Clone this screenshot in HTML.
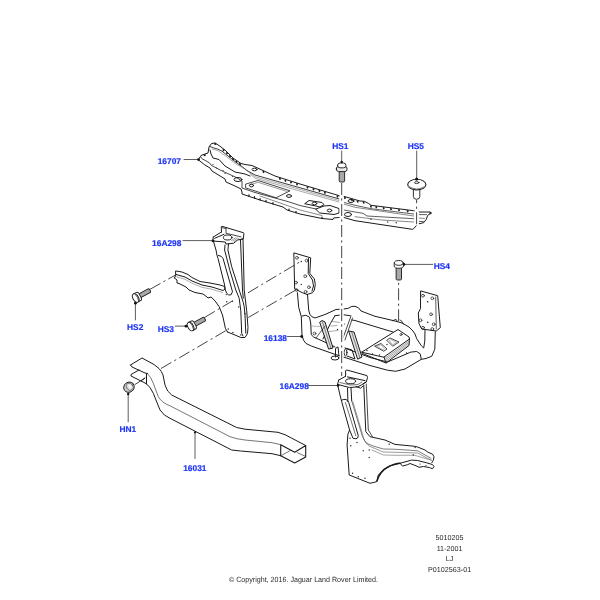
<!DOCTYPE html>
<html><head><meta charset="utf-8">
<style>
html,body{margin:0;padding:0;background:#fff;width:600px;height:600px;overflow:hidden}
svg{position:absolute;left:0;top:0;will-change:transform;text-rendering:geometricPrecision}
.l{font-family:"Liberation Sans",sans-serif;font-weight:bold;font-size:8.4px;fill:#1e35f8;stroke:#1e35f8;stroke-width:0.2px}
.t{font-family:"Liberation Sans",sans-serif;font-size:7.2px;fill:#2a2a2a}
</style></head><body>
<svg width="600" height="600" viewBox="0 0 600 600">
<g fill="none" stroke="#1a1a1a" stroke-width="1" stroke-linejoin="round" stroke-linecap="round">

<!-- 16707 panel -->
<g id="panel">
<path d="M198.5,159.5 L201,155.5 L205,154 L208,153 L209,147 L211.5,143.5 L215,143 L219,145.5 L225,150 L233,158 L241,163.5 L245,164.5 L252,165.5 L275,176 L300,184 L339.3,195.7 L345,196.7 L360,201 L364.3,201.3 L368.3,203.3 L371,205.3 L413.7,210.7 L419,212 L429.7,212 L431,213.3 L427.7,215.3 L426.3,219.3 L423.7,222.7 L417.7,224 L413.7,228.7 L412.3,229.3 L355,220.7 L344,217.5 L339,217.5 L333.5,218 L333,219.5 L322,218.5 L300,214 L287,210 L283,207 L273,204 L260,200 L242,194 L242,192 L241,189 L235,186 L226,182 L225,179 L212,171 L210,168 L205,165 Z"/>
<!-- line A near top -->
<path d="M210,146.5 L213.3,147.8 L218,149.2 L222,151.2 L225.3,153.8 L236,162.3 L242,166.5 L247,170.5 L255,175 L305,189.2 L339,198.9" stroke-width="0.85"/>
<path d="M212,149 L218,150.8 L225,155.5 L236,164 L244,168.5 L255,176.7 L305,190.8 L339,200.5" stroke="#666" stroke-width="0.55"/>
<path d="M250,174 L255,178.3 L305,192.5 L339,202" stroke="#666" stroke-width="0.55"/>
<path d="M344,202.5 L355,205.3 L371,208.7 L413.7,214 M419,214.6 L426.5,214.6" stroke-width="0.7"/>
<path d="M344,204.2 L355,207.3 L413.7,216 M419,218 L424.5,218.5" stroke="#555" stroke-width="0.7"/>
<path d="M344,210 L355,212 L363,213.3 L367,216 L413.7,218.7 M419,221.4 L423.5,221.6" stroke-width="0.7"/>
<path d="M355,216.7 L381.7,220 L413.7,222" stroke="#555" stroke-width="0.7"/>
<!-- line B wavy -->
<path d="M210,150 L211,154 L213,158 L219,159.5 L225,166 L235,172 L245,174 L250,176"/>
<!-- line C near bottom -->
<path d="M200.7,156.7 L202,158.7 L209.3,162.7 L211.3,165.3 L222.7,171.3 L236,177.3 L242,181 L242,188 L255,192.5 L288.3,201.7 L300,205.5 L316,209" stroke-width="0.8"/>
<path d="M260,196 L300,210 L322,215.5" stroke="#555" stroke-width="0.7"/>
<path d="M246,184 L258,180.5 L290,190.8 L276,197.8 L246,188 Z" stroke-width="0.8"/>
<path d="M249,185.2 L258,182.3 L286.5,191.3" stroke="#555" stroke-width="0.6"/>
<path d="M305,203.5 L309,200.5 L322,202.5 L324,204.5 L320,207 L316,206 Z"/>
<path d="M316,209 L324,206 L330,205.5 L339,208.5 L339,213 L334,214.5 L320,213 Z"/>
<ellipse cx="314.5" cy="203.5" rx="2.3" ry="1.4"/>
<ellipse cx="329.5" cy="210.5" rx="2.3" ry="1.4"/>
<ellipse cx="348" cy="214.5" rx="3.5" ry="2"/>
<ellipse cx="351" cy="201" rx="3" ry="1.5"/>
<ellipse cx="254.5" cy="169.5" rx="2.5" ry="1.3"/>
<ellipse cx="251.5" cy="185.5" rx="2" ry="1.4"/>
<ellipse cx="289" cy="196" rx="2.5" ry="1.4"/>
<ellipse cx="238" cy="179.5" rx="4" ry="2"/>
<!-- ticks top -->
<path d="M223.1,149.2 L223.8,151.1 M226.6,152.3 L227.3,154.2 M229.6,155.3 L230.3,157.2 M232.6,158.3 L233.3,160.2 M236.1,160.7 L236.8,162.6 M239.6,163.1 L240.3,165.0 M263.1,171.1 L263.8,172.9 M279.6,177.9 L280.3,179.8 M285.1,179.7 L285.8,181.6 M290.6,181.4 L291.3,183.3 M296.6,183.3 L297.3,185.2 M307.1,186.5 L307.8,188.4 M313.1,188.3 L313.8,190.2 M319.1,190.1 L319.8,192.0 M324.6,191.7 L325.3,193.6 M337.1,195.5 L337.8,197.4 M344.6,197.0 L345.3,198.9 M351.6,199.0 L352.3,200.9 M357.3,200.6 L358.0,202.5 M363.3,201.6 L364.0,203.5 M370.6,205.6 L371.3,207.5 M375.9,206.3 L376.6,208.2 M383.3,207.2 L384.0,209.1 M390.6,208.1 L391.3,210.0 M398.6,209.1 L399.3,211.0 M407.3,210.2 L408.0,212.1" stroke-width="1.6" stroke-linecap="butt"/>
<!-- ticks bottom -->
<path d="M249.0,196.2 L249.0,194.8 M254.5,198.1 L254.5,196.7 M260.0,199.9 L260.0,198.5 M266.0,201.7 L266.0,200.3 M273.0,203.9 L273.0,202.5 M289.0,210.5 L289.0,209.1 M296.0,212.7 L296.0,211.3 M322.0,218.4 L322.0,217.0" stroke-width="1.2"/>
<g fill="#222" stroke="none"><circle cx="430.5" cy="213" r="1.2"/><circle cx="371" cy="219.3" r="0.7"/><circle cx="387.7" cy="222" r="0.7"/><circle cx="396.3" cy="222.7" r="0.7"/><circle cx="204.7" cy="155.2" r="1.1"/><circle cx="215.3" cy="143.9" r="1.1"/><circle cx="213" cy="164.5" r="0.6"/><circle cx="216.5" cy="168" r="0.6"/><circle cx="223" cy="170.5" r="0.6"/><circle cx="225" cy="173.5" r="0.6"/><circle cx="232.5" cy="176.5" r="0.6"/></g>
</g>
<!-- gaps -->
<g fill="#fff" stroke="none">
<rect x="339.6" y="193.5" width="4.2" height="27"/>
<rect x="414.6" y="208.5" width="4.2" height="17"/>
</g>
<!-- upper 16A298 bracket -->
<g id="br1">
<path d="M221.5,232 L221.3,226.7 L222,226.3 L243.3,232.7 L244,233.3 L243.3,238.7 L240,239.7" fill="#fff"/>
<path d="M213.3,237 L221.5,232 M214.7,238.3 L224,234.3 M212.7,241 L213.3,237"/>
<path d="M226,228.5 L226,233.3 L241,236.8 M222.5,227.8 L226,228.5" stroke-width="0.8"/>
<ellipse cx="227.7" cy="237.5" rx="4.3" ry="2.5"/>
<path d="M212.7,241 L225.3,242 L226,244 L233.3,243.3 L235.3,242 L237.3,240 L241.3,239.3 L243.3,238.7"/>
<path d="M231.5,240.5 L236,237.5 M233,241 L237.5,238 M234.5,241.5 L239,238.5" stroke="#666" stroke-width="0.6"/>
<path d="M213.5,241.5 L216,250 L217,255.5 L218,258.3 L224.6,285 L225,289 L226.7,293.3 Q228,295.5 230.8,295 L232.5,291.7 L223,258.3 Q222,255.8 218.3,255.4"/>
<path d="M225,245 L224.6,250 L230,270.8 L235.8,290 L239.2,298.3 L240.8,310.8 L241.7,333.3 L243,336"/>
<path d="M228.5,244 L227.9,250 L231.7,266.7 L239.2,290 L243.3,302.5 L244.2,306.7 L245,315 L245.8,333.3"/>
<path d="M240.5,240 L242.5,290 L243.3,298.3"/>
<path d="M243,239 L244.2,290 L246.7,310.8 L248,327.5 L247.5,333.3 L246.7,335 L245,337.5 L240.8,337.5 L235,335 L227.5,332"/>
<path d="M176,271 L182,272 L188,274.5 L192,277.5 L200,281.5 L210,283 L220,285 L224.6,286.5 L225.2,289 L223,290.5 L212,287 L202,285 L192,281 L185,277 L176,274.5 Z"/>
<path d="M176.5,276.8 L185,279.3 L192,283.3 L202,287.3 L212,289.3 L222.5,292.5" stroke="#777" stroke-width="0.6"/>
<path d="M174.5,278 L177,280 L177,283 L179,283.5 L186,287 L189,290 L195,292.5 L203,294 L207,297 L208,298 L211,297 L215,300.8 L219.2,306.7 L222.5,315 L225.4,328.3 L227.5,332"/>
<path d="M174.5,278 L176,274.5"/>
<g fill="#222" stroke="none">
<circle cx="226.2" cy="294.6" r="0.7"/><circle cx="226.7" cy="301.7" r="0.7"/><circle cx="232.5" cy="301.3" r="0.7"/><circle cx="238.7" cy="307" r="0.7"/><circle cx="245" cy="313.7" r="0.7"/><circle cx="228.3" cy="329" r="0.7"/><circle cx="232.9" cy="332.5" r="0.7"/><circle cx="240.8" cy="335" r="0.7"/>
</g>
</g>

<!-- 16138 cradle -->
<g id="cradle">
<path d="M294.2,253 L310.7,257.8 L309.8,273.4 L314.4,279 L315.3,284.4 L314.4,290 L312.5,292.7 L307,294.5 L302.4,292.7 L295,289 Z" fill="#fff"/>
<path d="M308.5,258.5 L308.2,273.5 L312.5,280 L313.5,286 L312,291"/>
<path d="M421,291 L437.7,295.7 L440.3,327.7 L436.3,331 L421.7,329 L419,323.7 L418.3,313 L420.3,309 Z" fill="#fff"/>
<path d="M435.7,297 L436.3,329" stroke-width="0.7"/>
<g stroke-width="0.7">
<circle cx="296.9" cy="257.8" r="1.4"/><circle cx="306.6" cy="260.6" r="1.4"/><circle cx="305.2" cy="276.2" r="1.4"/><circle cx="296" cy="282.6" r="1.4"/><circle cx="308.9" cy="287.2" r="1.4"/><circle cx="296.5" cy="290" r="1.4"/><circle cx="305.6" cy="291.8" r="1.4"/>
<circle cx="423" cy="295.7" r="1.4"/><circle cx="432.3" cy="298.3" r="1.4"/><circle cx="431" cy="314.3" r="1.4"/><circle cx="420.5" cy="320.3" r="1.4"/><circle cx="433.7" cy="324.3" r="1.4"/><circle cx="423" cy="327.7" r="1.4"/><circle cx="432.3" cy="329" r="1.4"/>
</g>
<g fill="#222" stroke="none"><circle cx="301.3" cy="261.5" r="0.7"/><circle cx="301.3" cy="284.4" r="0.7"/><circle cx="427.7" cy="301.7" r="0.8"/><circle cx="427.7" cy="322.3" r="0.8"/></g>
<!-- tubes -->
<path d="M297.4,292.7 L298.7,307.3 L301.3,316.7 L302,335.3 Q303,341 306,343.5 L311.3,346 L334,354 L370,365.5 L387.5,370.2 L395.7,371.3 L405,369 L421.3,359.3 L426,358.5 L431.8,356.2 L434.8,349.2 L435.3,331.7"/>
<path d="M307.5,294.5 L308.7,310 Q309.5,316 312,316.7 L315,318 L325,314.5 L336,309.5 L344,309 L348.3,308.3 Q352,305.5 355,306.3 Q359,307 361,311 L375,316.3 L395,321 L402,323 L409,327 L413,331 L415,334 L416.7,338.7 L421.3,345.7 L423.7,348 L424.8,341 L425,330"/>
<path d="M302,316 Q306,313.8 309.5,317.2 L310.7,323 L311.25,334.7 L313.6,337 L331.7,345.2 L335,347 M346,348.5 L370,357.5 L387.5,362 L410.8,352.1 L416.7,351.5 L420.2,353.8 L421.3,359.3"/>
<path d="M392.7,320.7 L396,319.3 L397.3,321.3 M400,320 L402,321.3 L403.3,324" stroke-width="0.8"/>
<path d="M352,320 L355,320.5 L393,332"/>
<path d="M311,326 L320,326.5" stroke="#888" stroke-width="0.6"/>
<!-- platform -->
<path d="M362,352 L398,329.5 L409,337 L409.5,339 L384,357 Z" fill="#fff"/>
<path d="M409.5,339 L409,345.5 L386,363 L384,357 M362,352 L362.5,353.5 L386,363"/>
<path d="M409.5,340.7 L384.6,358.6 M409.4,342.3 L385.1,360 M409.3,343.9 L385.6,361.4" stroke="#555" stroke-width="0.55"/>
<path d="M375,346 L381,343.5 L387,349 L384,351 Z M387,340 L390,338 L399,342 L393,346 Z" stroke-width="0.8"/>
<path d="M377,346.3 L380.8,344.8 L384.5,348.6 L383.5,349.6 Z M389.5,340.5 L390.8,339.5 L396.5,342.3 L393,344.5 Z" stroke="#666" stroke-width="0.5"/>
<circle cx="401" cy="334.5" r="1.1" stroke-width="0.7"/>
<g fill="#222" stroke="none"><circle cx="387" cy="344.5" r="0.7"/><circle cx="367" cy="350.5" r="0.7"/><circle cx="372.5" cy="354" r="0.7"/><circle cx="379.5" cy="355" r="0.7"/><circle cx="406.5" cy="353" r="0.7"/><circle cx="337.5" cy="329.5" r="0.7"/><circle cx="344.5" cy="324" r="0.5"/></g>
<!-- struts -->
<path d="M335,315.7 Q343,313.5 350.3,315.7 M335,315.7 L330.3,323.7 L323,339"/>
<path d="M332,321.5 L340,322.5 M329,331.5 L338,330.5 M331,326 L337,325.5" stroke="#888" stroke-width="0.7"/>
<path d="M320,322 L322,320.5 L325,322 L333,348 L329,349 Z" fill="#e2e2e2"/>
<path d="M322.5,322 L331,348.5" stroke-width="0.5"/>
<path d="M325,326 L316,338" stroke-width="0.7"/>
<path d="M351,316 L343,338 M352.5,318 L345,340" stroke-width="0.8"/>
<path d="M349,331 L354,332 L362,357 L358,359 Z" fill="#e2e2e2"/>
<path d="M351.5,331.5 L360,358" stroke-width="0.5"/>
<circle cx="314.5" cy="333.5" r="1.4" stroke-width="0.7"/>
<ellipse cx="335" cy="358" rx="4" ry="2" fill="#fff"/>
<path d="M335.5,357 L335.5,349 Q336,347 338,347 L339,356"/>
<path d="M345,348 L352,350 L355,359 L347,356"/>
<ellipse cx="345.5" cy="352.5" rx="1.5" ry="3.5" fill="#fff"/>
</g>

<!-- lower 16A298 bracket -->
<g id="br2">
<path d="M345.6,376.3 L345.6,370.6 L346.9,370 L366.9,375.6 L367.5,377.5 L366.3,381.9 L363.1,383.8" fill="#fff"/>
<path d="M338.75,380 L345.6,376.3 M338.75,380 L337.5,384.4 L349.4,387.5 L357.5,386.9 L361.3,385 L366.3,381.9"/>
<path d="M347.5,376.9 L365,380.6"/>
<ellipse cx="350.6" cy="381.25" rx="5" ry="2.5"/>
<path d="M340,382.5 L350,385 L358,384.5 L362,382" stroke-width="0.6"/>
<path d="M356,386.5 L360.6,388.2 L363,386"/>
<!-- column outer left + panel -->
<path d="M337.5,384.4 L340,395 L341.7,401.7 L349.6,430 L347.9,434.2 L347.1,445 L349.2,475 L370,483.3 L376.7,481.7 L378.3,475 L383.3,470 L390,465.8 L400,463.3 L411.5,460.1 L417.5,460.5 L426.5,462.75 L432.5,464.6 L434,466.5 L432.5,468.75 L429.5,467.6 L423.5,466.5 L419,467.25 L416,465.75 L410,463.5 L407.75,464.6 L402.5,466.1 L400.25,463.5"/>
<path d="M377,481 Q380,471 388,467 Q395,463.5 400,463.3" stroke-width="1.4"/>
<!-- groove -->
<path d="M341.7,400.2 Q344,398.8 346,399.5 Q348,400.5 348.75,402.5 L358.3,435.8 Q358,438.8 356,438.8 L353,438.3 L349.6,430" fill="none"/>
<path d="M345.4,402.5 L355.8,435.8" stroke-width="0.6"/>
<path d="M347.5,388 L347.9,401.7 M351,388 L351.7,400.8"/>
<!-- arm lines -->
<path d="M351.7,400.8 L362.5,436.7 L366,443 L373.3,446 L383.3,449 L395,449.25 L417.5,450.75 L431,458.25" stroke="#444" stroke-width="0.7"/>
<path d="M352.9,401.7 L364.2,440 L369,446 L383.3,452 L395,452.25 L417.5,453 L431.75,460.5" stroke="#555" stroke-width="0.6"/>
<path d="M372,450 L383.3,455 L395,455.25 L414.5,455.25 L431,460" stroke="#666" stroke-width="0.6"/>
<path d="M363.75,385 L365.8,431.7 L370,436.7 L385,440 L395,444.4 L414.5,446.25 L417.5,447 L425,450 L428,452.25 L432.5,454.1 L434,456.75 L433.25,460.5 L431.75,462.75"/>
<path d="M366.25,384 L368.3,430 L372.5,436.7" stroke-width="0.8"/>
<g fill="#222" stroke="none">
<circle cx="350" cy="438.3" r="0.7"/><circle cx="357" cy="442.5" r="0.7"/><circle cx="350.8" cy="445.8" r="0.7"/><circle cx="363.3" cy="450.8" r="0.7"/><circle cx="369.2" cy="450" r="0.7"/><circle cx="369.2" cy="457.5" r="0.7"/><circle cx="389.2" cy="444.2" r="0.7"/><circle cx="413.3" cy="455" r="0.7"/><circle cx="415" cy="447.5" r="0.7"/><circle cx="352.5" cy="473.3" r="0.7"/><circle cx="358.3" cy="476.7" r="0.7"/><circle cx="365" cy="478.3" r="0.7"/><circle cx="420" cy="464" r="0.6"/><circle cx="426" cy="465.5" r="0.6"/>
</g>
</g>

<!-- 16031 beam -->
<g id="beam">
<path d="M130.5,365 L142,358 L154,364.5 L159,368.5 Q161.5,371 163,375 L165,385 Q167,392 171.7,395 L236.7,427.5 L245,429.2 L278,432.3 L285,434.7 L305.7,445.5" stroke-width="1"/>
<path d="M130.5,365 L132,367 L145,373 L147.5,373.5"/>
<path d="M139,370 L131,374.5 L131,376 L145,383 L146.5,384"/>
<path d="M146.5,374 L146.5,383.5 M145,378 L141.5,380.5"/>
<path d="M146.5,384 Q150,386 153.3,393.3 L160,410 Q164,416 170,418.3 L231.7,450 L240.7,451 L272,453.7 L280.7,455.7" stroke-width="1"/>
<path d="M147.5,373.5 Q151,377 153.3,383.3 L158.3,396.7 Q162,403 170,405.8 L230,436.7 Q236,439 245,440 L272,442.7 L280.7,444.7" stroke-width="0.6"/>
<path d="M305.7,445.5 L305.7,457 L294.7,463 L280.7,455.7 L280.7,444.7 L294.7,452.3 Z" stroke-width="1.1"/>
<path d="M281.7,455.3 L290,450.7 M297.3,452.7 L304.7,456" stroke-width="0.6"/>
</g>

<!-- bolts -->
<g id="bolts" stroke="#1a1a1a" stroke-width="0.9">
<!-- HS1 -->
<rect x="339.2" y="171" width="5.4" height="11" rx="1.2" fill="#a8a8a8"/>
<path d="M336.3,169 Q336.3,166.3 338.5,166.3 L345,166.3 Q347.1,166.3 347.1,169 Q347.1,171.6 345,171.6 L338.5,171.6 Q336.3,171.6 336.3,169 Z" fill="#e8e8e8"/>
<path d="M337.5,165.5 Q337.5,163 340,163 L343.5,163 Q346,163 346,165.5 Q346,167.8 343.5,167.8 L340,167.8 Q337.5,167.8 337.5,165.5 Z" fill="#fff"/>
<!-- HS5 -->
<path d="M413.4,189 L413.4,196.5 A3.2,2.8 0 0 0 419.8,196.5 L419.8,189" fill="#fff"/>
<ellipse cx="416.8" cy="184.6" rx="9.1" ry="5.3" fill="#fff" stroke-width="1.1"/>
<path d="M408.5,186.5 Q416.8,191.5 425.1,186.5" stroke="#888" stroke-width="1.2"/>
<ellipse cx="416.7" cy="182.6" rx="2.3" ry="1" stroke-width="0.8"/>
<!-- HS4 -->
<rect x="396.1" y="267.5" width="5.4" height="12.5" rx="1.2" fill="#a8a8a8"/>
<path d="M394.2,263 L394.2,266 Q394.2,268.3 398.8,268.3 Q403.4,268.3 403.4,266 L403.4,263" fill="#fff"/>
<ellipse cx="398.8" cy="262.9" rx="4.3" ry="2.4" fill="#fff"/>
<!-- HS2 -->
<g transform="translate(135.7,298) rotate(-28.2)">
<rect x="4.2" y="-2.1" width="12" height="4.2" rx="1" fill="#a8a8a8"/>
<path d="M0,-4.6 L3,-4.6 Q5,-4.6 5,-2.3 L5,2.3 Q5,4.6 3,4.6 L0,4.6" fill="#fff"/>
<ellipse cx="0" cy="0" rx="2.8" ry="4.6" fill="#fff"/>
<path d="M1.2,-4.4 Q2.6,0 1.2,4.4" stroke-width="0.6"/>
</g>
<!-- HS3 -->
<g transform="translate(190.6,326.5) rotate(-28.4)">
<rect x="4.2" y="-2.1" width="12" height="4.2" rx="1" fill="#a8a8a8"/>
<path d="M0,-4.6 L3,-4.6 Q5,-4.6 5,-2.3 L5,2.3 Q5,4.6 3,4.6 L0,4.6" fill="#fff"/>
<ellipse cx="0" cy="0" rx="2.8" ry="4.6" fill="#fff"/>
<path d="M1.2,-4.4 Q2.6,0 1.2,4.4" stroke-width="0.6"/>
</g>
<!-- HN1 -->
<g transform="translate(129,387.2) rotate(-35)">
<ellipse cx="0" cy="0" rx="5.5" ry="5" fill="#c8c8c8" stroke-width="0.9"/>
<ellipse cx="0.9" cy="0" rx="3.2" ry="3.8" fill="#e0e0e0" stroke="#444" stroke-width="0.6"/>
<ellipse cx="1.1" cy="0" rx="0.9" ry="2.3" fill="#fff" stroke="none"/>
</g>
</g>
<g fill="#fff" stroke="none"><rect x="339.7" y="300" width="4" height="72"/></g>
<!-- leaders -->
<g stroke="#333" stroke-width="0.8">
<line x1="184" y1="159.5" x2="198" y2="159.5"/>
<line x1="341.7" y1="151" x2="341.7" y2="162"/>
<line x1="416.7" y1="151" x2="416.7" y2="180"/>
<line x1="183" y1="240.6" x2="213" y2="240.6"/>
<line x1="404" y1="264.4" x2="432.7" y2="264.4"/>
<line x1="135.4" y1="303" x2="135.4" y2="320"/>
<line x1="175.3" y1="326.1" x2="186" y2="326.1"/>
<line x1="287.5" y1="336.5" x2="301.7" y2="336.5"/>
<line x1="308.5" y1="385.5" x2="338" y2="385.5"/>
<line x1="128.2" y1="393.8" x2="128.2" y2="421.8"/>
<line x1="195" y1="432.3" x2="195" y2="458.5"/>
</g>
<g fill="#111" stroke="none">
<circle cx="198.5" cy="159.6" r="1.4"/>
<circle cx="341.7" cy="162" r="1.2"/>
<circle cx="416.6" cy="179" r="1.5"/>
<circle cx="213" cy="240.8" r="1.4"/>
<circle cx="404" cy="264.4" r="1.3"/>
<circle cx="135.4" cy="303.2" r="1.4"/>
<circle cx="186" cy="326.2" r="1.4"/>
<circle cx="301.7" cy="336.5" r="1.4"/>
<circle cx="338" cy="385.5" r="1.3"/>
<circle cx="128.2" cy="394" r="1.2"/>
<circle cx="195" cy="432.3" r="1.1"/>
</g>
<!-- dash-dot lines -->
<g stroke="#222" stroke-width="0.85" stroke-dasharray="12 3.4 2.2 3.4" stroke-linecap="butt">
<line x1="341.7" y1="183" x2="341.7" y2="376"/>
<line x1="416.6" y1="224.2" x2="416.6" y2="200"/>
<line x1="398.6" y1="321.3" x2="398.6" y2="281"/>
<line x1="150" y1="289.3" x2="176.5" y2="274.5"/>
<line x1="204.5" y1="317.5" x2="232.3" y2="301"/>
<line x1="248" y1="292.8" x2="301.7" y2="260.8"/>
<line x1="161" y1="368.5" x2="227.8" y2="329.5"/>
<line x1="135" y1="384.5" x2="145" y2="378"/>
<line x1="248.3" y1="317.5" x2="295.8" y2="290"/>
</g>
</g>
<!-- labels -->
<text class="l" x="157.7" y="163.7">16707</text>
<text class="l" x="332.2" y="148.7">HS1</text>
<text class="l" x="407.7" y="149.3">HS5</text>
<text class="l" x="152.1" y="245.7">16A298</text>
<text class="l" x="433.7" y="268.9">HS4</text>
<text class="l" x="127.0" y="330.3">HS2</text>
<text class="l" x="157.7" y="331.7">HS3</text>
<text class="l" x="263.7" y="340.7">16138</text>
<text class="l" x="279.5" y="388.8">16A298</text>
<text class="l" x="119.5" y="431.9">HN1</text>
<text class="l" x="183.2" y="470.5">16031</text>
<g transform="scale(0.1)">
<text class="t" style="font-size:72px" x="4496" y="5400" text-anchor="middle">5010205</text>
<text class="t" style="font-size:72px" x="4496" y="5508" text-anchor="middle">11-2001</text>
<text class="t" style="font-size:72px" x="4496" y="5613" text-anchor="middle">LJ</text>
<text class="t" style="font-size:72px" x="4496" y="5722" text-anchor="middle">P0102563-01</text>
<text class="t" style="font-size:75px" x="2289" y="5820" textLength="1490" lengthAdjust="spacingAndGlyphs">© Copyright, 2016. Jaguar Land Rover Limited.</text>
</g>
</svg>
</body></html>
